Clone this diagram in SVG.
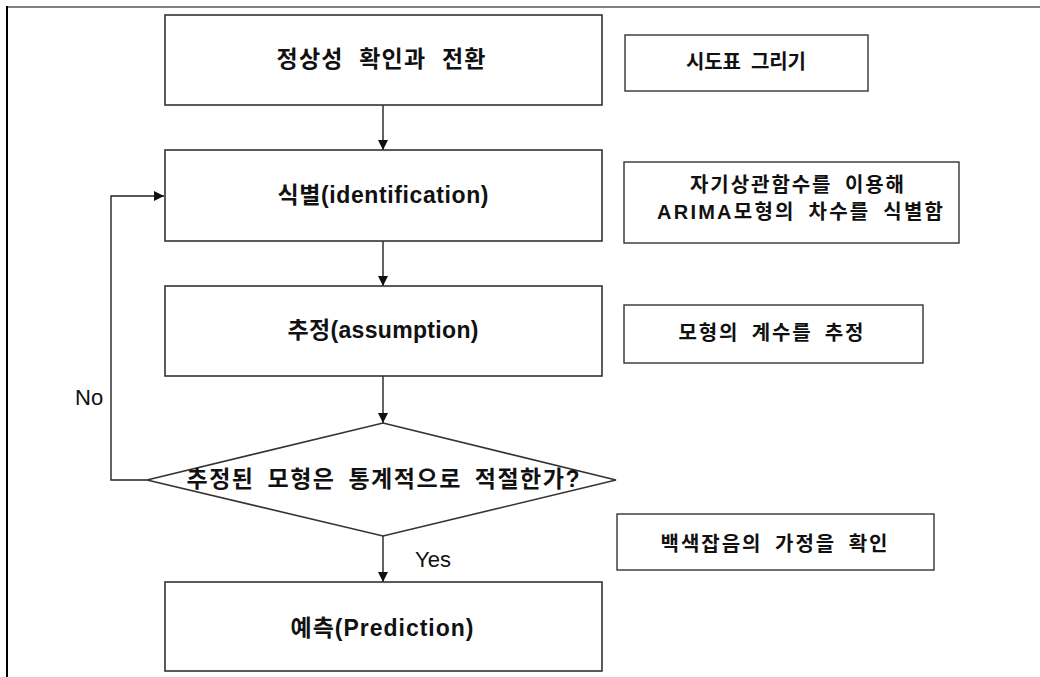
<svg xmlns="http://www.w3.org/2000/svg" width="1040" height="677" viewBox="0 0 1040 677">
  <defs>
    <marker id="arrow" viewBox="0 0 10 10" refX="10" refY="5" markerWidth="10" markerHeight="10" markerUnits="userSpaceOnUse" orient="auto">
      <path d="M0,0 L10,5 L0,10 z" fill="#111"/>
    </marker>
  </defs>
  <style>
    .box { fill: #fff; stroke: #333; stroke-width: 1.6; }
    .note { fill: #fff; stroke: #333; stroke-width: 1.4; }
    .edge { fill: none; stroke: #222; stroke-width: 1.4; }
    text { font-family: 'Liberation Sans', 'Noto Sans CJK KR', sans-serif; fill: #111; }
    .main { font-size: 23px; text-anchor: middle; dominant-baseline: central; font-weight: bold; }
    .side { font-size: 20px; text-anchor: middle; dominant-baseline: central; font-weight: bold; word-spacing: 5px; }
    .lbl { font-size: 22px; }
  </style>

  <!-- page frame -->
  <line x1="7" y1="7" x2="1040" y2="7" stroke="#808080" stroke-width="2"/>
  <line x1="7" y1="6" x2="7" y2="677" stroke="#000" stroke-width="2"/>

  <!-- connectors -->
  <g id="connectors">
    <line class="edge" x1="383" y1="105" x2="383" y2="150" marker-end="url(#arrow)"/>
    <line class="edge" x1="383" y1="241" x2="383" y2="286" marker-end="url(#arrow)"/>
    <line class="edge" x1="383" y1="376" x2="383" y2="423" marker-end="url(#arrow)"/>
    <line class="edge" x1="383" y1="536" x2="383" y2="582" marker-end="url(#arrow)"/>
    <polyline class="edge" points="147,480 111,480 111,196 164,196" marker-end="url(#arrow)"/>
    <text class="lbl" x="75" y="405">No</text>
    <text class="lbl" x="415" y="567">Yes</text>
  </g>

  <g id="n-stationarity">
    <rect class="box" x="165" y="15" width="437" height="90"/>
    <text class="main" x="381" y="59" textLength="209" lengthAdjust="spacing" word-spacing="8">정상성 확인과 전환</text>
  </g>

  <g id="n-identification">
    <rect class="box" x="165" y="150" width="437" height="91"/>
    <text class="main" x="383" y="195" textLength="211" lengthAdjust="spacing">식별(identification)</text>
  </g>

  <g id="n-assumption">
    <rect class="box" x="165" y="286" width="437" height="90"/>
    <text class="main" x="383" y="330" textLength="191" lengthAdjust="spacing">추정(assumption)</text>
  </g>

  <g id="n-decision">
    <polygon class="box" points="383,423 616,480 383,536 147,480"/>
    <text class="main" x="383" y="479" textLength="393" lengthAdjust="spacing" word-spacing="5">추정된 모형은 통계적으로 적절한가?</text>
  </g>

  <g id="n-prediction">
    <rect class="box" x="165" y="582" width="437" height="89"/>
    <text class="main" x="382" y="628" textLength="183" lengthAdjust="spacing">예측(Prediction)</text>
  </g>

  <g id="note-plot">
    <rect class="note" x="625" y="35" width="243" height="56"/>
    <text class="side" x="746" y="62" textLength="120" lengthAdjust="spacing" word-spacing="3">시도표 그리기</text>
  </g>

  <g id="note-acf">
    <rect class="note" x="624" y="162" width="335" height="81"/>
    <text class="side" x="797" y="185" textLength="214" lengthAdjust="spacing">자기상관함수를 이용해</text>
    <text class="side" x="800" y="212" textLength="286" lengthAdjust="spacing">ARIMA모형의 차수를 식별함</text>
  </g>

  <g id="note-coef">
    <rect class="note" x="624" y="305" width="299" height="58"/>
    <text class="side" x="771" y="333" textLength="185" lengthAdjust="spacing">모형의 계수를 추정</text>
  </g>

  <g id="note-whitenoise">
    <rect class="note" x="617" y="514" width="317" height="56"/>
    <text class="side" x="774" y="544" textLength="227" lengthAdjust="spacing">백색잡음의 가정을 확인</text>
  </g>
</svg>
